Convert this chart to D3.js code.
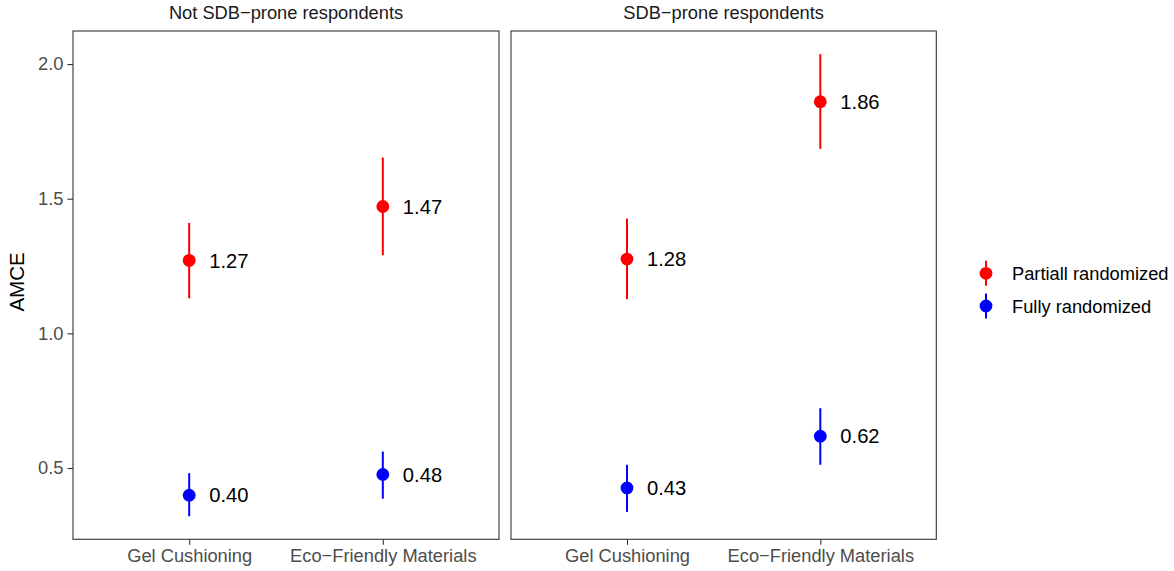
<!DOCTYPE html>
<html>
<head>
<meta charset="utf-8">
<script src="https://cdn.jsdelivr.net/npm/d3@7"></script>
<style>
  body { margin: 0; background: #fff; }
  text { font-family: "Liberation Sans", Arial, Helvetica, sans-serif; }
</style>
</head>
<body>
<script>
// panels, categories and series
const panels = ["Not SDB\u2212prone respondents", "SDB\u2212prone respondents"];
const attributes = ["Gel Cushioning", "Eco\u2212Friendly Materials"];
const seriesNames = ["Partiall randomized", "Fully randomized"];
const seriesColors = ["#FF0000", "#0000FF"];

// estimates per panel: [Gel, Eco]
const partialEst   = [[1.271, 1.471], [1.276, 1.860]];
const partialLower = [[1.130, 1.290], [1.127, 1.685]];
const partialUpper = [[1.410, 1.653], [1.426, 2.037]];
const fullyEst     = [[0.399, 0.476], [0.426, 0.618]];
const fullyLower   = [[0.321, 0.386], [0.337, 0.512]];
const fullyUpper   = [[0.481, 0.561], [0.512, 0.722]];

const yTicks = [0.5, 1.0, 1.5, 2.0];

// long table built from the arrays above
const rows = [];
panels.forEach((p, pi) => {
  attributes.forEach((a, ai) => {
    rows.push({panel: pi, attr: a, series: 0, est: partialEst[pi][ai], lo: partialLower[pi][ai], hi: partialUpper[pi][ai]});
    rows.push({panel: pi, attr: a, series: 1, est: fullyEst[pi][ai], lo: fullyLower[pi][ai], hi: fullyUpper[pi][ai]});
  });
});

const width = 1174, height = 571;
const plotTop = 31, plotBottom = 539.3;
const panelX = [[73, 499], [511, 936.3]];
const smallFont = 18.3;

const svg = d3.select("body").append("svg")
  .attr("width", width)
  .attr("height", height);

// y range like ggplot: data range expanded by 5%
const yMin = d3.min(rows, d => d.lo), yMax = d3.max(rows, d => d.hi);
const pad = (yMax - yMin) * 0.05;
const y = d3.scaleLinear().domain([yMin - pad, yMax + pad]).range([plotBottom, plotTop]);

const ink = "#333333", tickText = "#4D4D4D";

panels.forEach((name, pi) => {
  const [x0, x1] = panelX[pi];
  // discrete axis with 0.6 expansion on each side
  const x = d3.scalePoint().domain(attributes).range([x0, x1]).padding(0.6);

  const g = svg.append("g");

  // strip title
  g.append("text")
    .attr("x", (x0 + x1) / 2)
    .attr("y", 19)
    .attr("text-anchor", "middle")
    .attr("font-size", smallFont)
    .attr("fill", "#1A1A1A")
    .text(name);

  // x axis
  const xAxis = g.append("g")
    .attr("transform", `translate(0,${plotBottom})`)
    .call(d3.axisBottom(x).tickSize(5.5).tickPadding(4));
  xAxis.select(".domain").remove();
  xAxis.selectAll(".tick line").attr("stroke", ink).attr("stroke-width", 1.1);
  xAxis.selectAll(".tick text")
    .attr("font-size", smallFont)
    .attr("fill", tickText)
    .attr("font-family", "'Liberation Sans', Arial, sans-serif");

  // y axis only on first panel
  if (pi === 0) {
    const yAxis = g.append("g")
      .attr("transform", `translate(${x0},0)`)
      .call(d3.axisLeft(y).tickValues(yTicks).tickFormat(d3.format(".1f")).tickSize(5.5).tickPadding(4));
    yAxis.select(".domain").remove();
    yAxis.selectAll(".tick line").attr("stroke", ink).attr("stroke-width", 1.1);
    yAxis.selectAll(".tick text")
      .attr("font-size", smallFont)
      .attr("fill", tickText)
      .attr("font-family", "'Liberation Sans', Arial, sans-serif");
  }

  // panel border
  g.append("rect")
    .attr("x", x0).attr("y", plotTop)
    .attr("width", x1 - x0).attr("height", plotBottom - plotTop)
    .attr("fill", "none")
    .attr("stroke", ink)
    .attr("stroke-width", 1.1);

  const data = rows.filter(d => d.panel === pi);

  g.selectAll(".ci")
    .data(data)
    .enter().append("line")
    .attr("class", "ci")
    .attr("x1", d => x(d.attr)).attr("x2", d => x(d.attr))
    .attr("y1", d => y(d.lo)).attr("y2", d => y(d.hi))
    .attr("stroke", d => seriesColors[d.series])
    .attr("stroke-width", 2);

  g.selectAll(".pt")
    .data(data)
    .enter().append("circle")
    .attr("class", "pt")
    .attr("cx", d => x(d.attr))
    .attr("cy", d => y(d.est))
    .attr("r", 6.4)
    .attr("fill", d => seriesColors[d.series]);

  g.selectAll(".lab")
    .data(data)
    .enter().append("text")
    .attr("class", "lab")
    .attr("x", d => x(d.attr) + 20)
    .attr("y", d => y(d.est))
    .attr("dy", "0.36em")
    .attr("font-size", 20.2)
    .attr("fill", "#000")
    .text(d => d.est.toFixed(2));
});

// y axis title
svg.append("text")
  .attr("transform", "translate(24,282) rotate(-90)")
  .attr("text-anchor", "middle")
  .attr("font-size", 20.5)
  .attr("fill", "#000")
  .text("AMCE");

// legend
const legend = svg.append("g").attr("transform", "translate(986,273.3)");
seriesNames.forEach((s, i) => {
  const row = legend.append("g").attr("transform", `translate(0,${i * 32.7})`);
  row.append("line")
    .attr("x1", 0).attr("x2", 0)
    .attr("y1", -12.5).attr("y2", 12.5)
    .attr("stroke", seriesColors[i])
    .attr("stroke-width", 2);
  row.append("circle")
    .attr("r", 6.4)
    .attr("fill", seriesColors[i]);
  row.append("text")
    .attr("x", 26)
    .attr("dy", "0.36em")
    .attr("font-size", smallFont)
    .attr("fill", "#000")
    .text(s);
});
</script>
</body>
</html>
